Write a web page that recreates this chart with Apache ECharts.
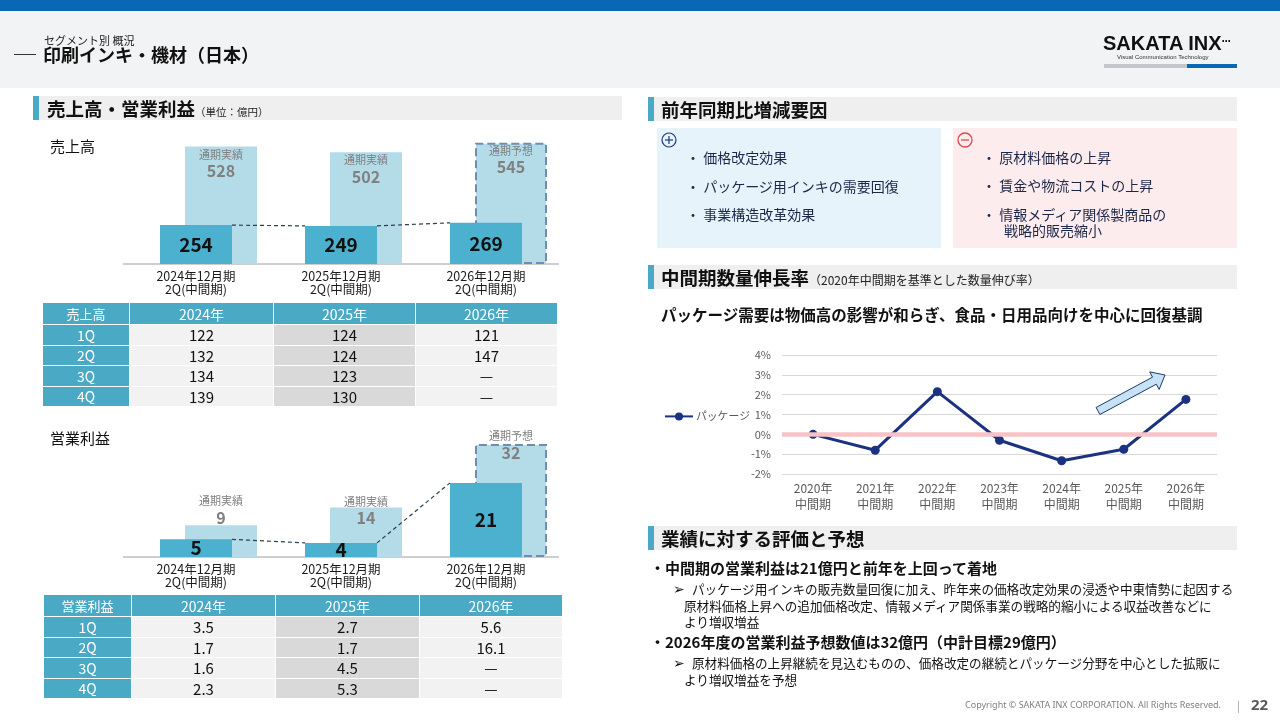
<!DOCTYPE html>
<html>
<head>
<meta charset="utf-8">
<script src="https://cdn.jsdelivr.net/npm/echarts@6/dist/echarts.min.js"></script>
<style>
body{margin:0;width:1280px;height:720px;position:relative;overflow:hidden;background:#fff;
     font-family:"Noto Sans CJK JP","Noto Sans",sans-serif;color:#1a1a1a}
.abs{position:absolute;white-space:nowrap}
.tx{z-index:3}
.hd{font-size:18.5px;line-height:24px;font-weight:bold;color:#111}
.item{font-size:14px;line-height:18px;color:#1c2748}
.tbl{position:absolute;display:grid;gap:1px;background:#fff;z-index:3}
.tbl div{display:flex;align-items:center;justify-content:center;white-space:nowrap}
.th{background:#4aa9c5;color:#fff;font-size:14px}
.c1{background:#f2f2f2;font-size:15px;color:#111}
.c2{background:#d9d9d9;font-size:15px;color:#111}
#chart{position:absolute;left:0;top:0;width:1280px;height:720px;z-index:2}
</style>
</head>
<body>
<!-- page frame -->
<div class="abs" style="left:0;top:0;width:1280px;height:11px;background:#0a67b4"></div>
<div class="abs" style="left:0;top:11px;width:1280px;height:77px;background:#f2f3f4"></div>
<div class="abs" style="left:14px;top:54px;width:22px;height:1px;background:#333"></div>
<div class="abs tx" style="left:44px;top:33px;font-size:11px;line-height:14px;color:#222">セグメント別 概況</div>
<div class="abs tx" style="left:43px;top:42px;font-size:18px;line-height:24px;font-weight:bold;color:#111">印刷インキ・機材（日本）</div>
<div class="abs tx" style="left:1103px;top:29px;font-family:'Liberation Sans',Arial,sans-serif;font-size:20px;line-height:24px;font-weight:bold;color:#111">SAKATA INX<span style="font-size:12px;letter-spacing:-1px;vertical-align:5px">···</span></div>
<div class="abs tx" style="left:1117px;top:53px;font-family:'Liberation Sans',Arial,sans-serif;font-size:6px;line-height:8px;color:#333">Visual Communication Technology</div>
<div class="abs" style="left:1104px;top:64px;width:83px;height:4px;background:#c3c7cb"></div>
<div class="abs" style="left:1187px;top:64px;width:50px;height:4px;background:#0a67b4"></div>

<!-- section headers -->
<div class="abs" style="left:33px;top:96px;width:6px;height:24px;background:#4aa9c5"></div>
<div class="abs" style="left:39px;top:96px;width:583px;height:24px;background:#efefef"></div>
<div class="abs tx hd" style="left:47px;top:96px">売上高・営業利益<span style="font-size:10.5px;font-weight:normal;color:#222">（単位：億円）</span></div>

<div class="abs" style="left:648px;top:97px;width:6px;height:24px;background:#4aa9c5"></div>
<div class="abs" style="left:654px;top:97px;width:583px;height:24px;background:#efefef"></div>
<div class="abs tx hd" style="left:661px;top:97px">前年同期比増減要因</div>

<div class="abs" style="left:648px;top:265px;width:6px;height:24px;background:#4aa9c5"></div>
<div class="abs" style="left:654px;top:265px;width:583px;height:24px;background:#efefef"></div>
<div class="abs tx hd" style="left:661px;top:265px">中間期数量伸長率<span style="font-size:12px;font-weight:normal;color:#222">（2020年中間期を基準とした数量伸び率）</span></div>

<div class="abs" style="left:648px;top:526px;width:6px;height:24px;background:#4aa9c5"></div>
<div class="abs" style="left:654px;top:526px;width:583px;height:24px;background:#efefef"></div>
<div class="abs tx hd" style="left:661px;top:526px">業績に対する評価と予想</div>

<!-- chart captions -->
<div class="abs tx" style="left:50px;top:136px;font-size:15px;line-height:20px;color:#111">売上高</div>
<div class="abs tx" style="left:50px;top:428px;font-size:15px;line-height:20px;color:#111">営業利益</div>

<!-- factor boxes -->
<div class="abs" style="left:657px;top:128px;width:284px;height:120px;background:#e6f3fb"></div>
<div class="abs" style="left:953px;top:128px;width:284px;height:120px;background:#fdeced"></div>
<svg class="abs tx" style="left:661px;top:132px" width="17" height="17">
  <circle cx="8" cy="8" r="7" fill="none" stroke="#1f3a7a" stroke-width="1.2"/>
  <line x1="4" y1="8" x2="12" y2="8" stroke="#1f3a7a" stroke-width="1.2"/>
  <line x1="8" y1="4" x2="8" y2="12" stroke="#1f3a7a" stroke-width="1.2"/>
</svg>
<svg class="abs tx" style="left:957px;top:132px" width="17" height="17">
  <circle cx="8" cy="8" r="7" fill="none" stroke="#e0474c" stroke-width="1.3"/>
  <line x1="4" y1="8" x2="12" y2="8" stroke="#e0474c" stroke-width="1.3"/>
</svg>
<div class="abs tx item" style="left:686px;top:148px">・ 価格改定効果</div>
<div class="abs tx item" style="left:686px;top:177px">・ パッケージ用インキの需要回復</div>
<div class="abs tx item" style="left:686px;top:205px">・ 事業構造改革効果</div>
<div class="abs tx item" style="left:982px;top:148px">・ 原材料価格の上昇</div>
<div class="abs tx item" style="left:982px;top:176px">・ 賃金や物流コストの上昇</div>
<div class="abs tx item" style="left:982px;top:205px">・ 情報メディア関係製商品の</div>
<div class="abs tx item" style="left:1004px;top:221px">戦略的販売縮小</div>

<div class="abs tx" style="left:661px;top:303px;font-size:15.5px;line-height:22px;font-weight:bold;color:#111">パッケージ需要は物価高の影響が和らぎ、食品・日用品向けを中心に回復基調</div>

<!-- evaluation text -->
<div class="abs tx" style="left:650px;top:558px;font-size:15px;line-height:20px;font-weight:bold;color:#111">・中間期の営業利益は21億円と前年を上回って着地</div>
<div class="abs tx" style="left:673px;top:580px;font-size:12.6px;line-height:17px;color:#111"><span style="display:inline-block;width:19px;font-family:'DejaVu Sans';font-size:14px">➢</span>パッケージ用インキの販売数量回復に加え、昨年来の価格改定効果の浸透や中東情勢に起因する</div>
<div class="abs tx" style="left:684px;top:597px;font-size:12.6px;line-height:17px;color:#111">原材料価格上昇への追加価格改定、情報メディア関係事業の戦略的縮小による収益改善などに</div>
<div class="abs tx" style="left:684px;top:613px;font-size:12.6px;line-height:17px;color:#111">より増収増益</div>
<div class="abs tx" style="left:650px;top:632px;font-size:15px;line-height:20px;font-weight:bold;color:#111">・2026年度の営業利益予想数値は32億円（中計目標29億円）</div>
<div class="abs tx" style="left:673px;top:654px;font-size:12.6px;line-height:17px;color:#111"><span style="display:inline-block;width:19px;font-family:'DejaVu Sans';font-size:14px">➢</span>原材料価格の上昇継続を見込むものの、価格改定の継続とパッケージ分野を中心とした拡販に</div>
<div class="abs tx" style="left:684px;top:671px;font-size:12.6px;line-height:17px;color:#111">より増収増益を予想</div>

<!-- footer -->
<div class="abs tx" style="left:965px;top:699px;font-family:'Noto Sans',sans-serif;font-size:9px;line-height:12px;color:#7f7f7f">Copyright © SAKATA INX CORPORATION. All Rights Reserved.</div>
<div class="abs tx" style="left:1237px;top:697px;font-size:11px;line-height:16px;color:#999">|</div>
<div class="abs tx" style="left:1251px;top:694px;font-family:'Noto Sans',sans-serif;font-size:15px;line-height:20px;font-weight:bold;color:#595959">22</div>

<div id="tblSales" class="tbl" style="left:43px;top:303px;grid-template-columns:86px 143px 141px 141px;grid-template-rows:21px repeat(4,19.5px)"></div>
<div id="tblOp" class="tbl" style="left:44px;top:595px;grid-template-columns:87px 143px 143px 142px;grid-template-rows:21px repeat(4,19.5px)"></div>

<div id="chart"></div>

<script type="text/javascript">
// ---- data ----
var barCats = ['2024年12月期\n2Q(中間期)', '2025年12月期\n2Q(中間期)', '2026年12月期\n2Q(中間期)'];
var salesHalf = [254, 249, 269];
var salesFull = [528, 502, 545];
var opHalf = [5, 4, 21];
var opFull = [9, 14, 32];
var fullTags = ['通期実績', '通期実績', '通期予想'];

var tableYears = ['2024年', '2025年', '2026年'];
var quarters = ['1Q', '2Q', '3Q', '4Q'];
var salesQ2024 = [122, 132, 134, 139];
var salesQ2025 = [124, 124, 123, 130];
var salesQ2026 = [121, 147, null, null];
var opQ2024 = [3.5, 1.7, 1.6, 2.3];
var opQ2025 = [2.7, 1.7, 4.5, 5.3];
var opQ2026 = [5.6, 16.1, null, null];

var lineCats = ['2020年\n中間期', '2021年\n中間期', '2022年\n中間期', '2023年\n中間期', '2024年\n中間期', '2025年\n中間期', '2026年\n中間期'];
var pkgGrowth = [0, -0.8, 2.15, -0.3, -1.33, -0.75, 1.76];

// ---- tables ----
function fillTable(id, title, cols, digits) {
    var el = document.getElementById(id);
    var html = '<div class="th" style="font-size:13px">' + title + '</div>';
    tableYears.forEach(function (y) { html += '<div class="th">' + y + '</div>'; });
    quarters.forEach(function (q, r) {
        html += '<div class="th">' + q + '</div>';
        cols.forEach(function (col, c) {
            var v = col[r];
            var txt = v === null ? '—' : v.toFixed(digits);
            html += '<div class="' + (c === 1 ? 'c2' : 'c1') + '">' + txt + '</div>';
        });
    });
    el.innerHTML = html;
}
fillTable('tblSales', '売上高', [salesQ2024, salesQ2025, salesQ2026], 0);
fillTable('tblOp', '営業利益', [opQ2024, opQ2025, opQ2026], 1);

// ---- chart ----
var dom = document.getElementById('chart');
var myChart = echarts.init(dom);

var darkColor = '#4bb1cf';
var lightColor = '#b4dbe8';
var halfW = 36;

function fullItems(values, shifts) {
    return values.map(function (v, i) {
        var item = { value: v };
        if (fullTags[i] === '通期予想') {
            item.itemStyle = { borderColor: '#6e8db0', borderType: 'dashed', borderWidth: 2 };
        }
        if (shifts) item.label = { offset: [0, shifts[i]] };
        return item;
    });
}
function pairs(values) {
    return values.slice(0, -1).map(function (v, i) { return [i, v, values[i + 1]]; });
}
function connector(params, api) {
    var i = api.value(0);
    var a = api.coord([i, api.value(1)]);
    var b = api.coord([i + 1, api.value(2)]);
    return {
        type: 'line',
        shape: { x1: a[0] + halfW, y1: a[1], x2: b[0] - halfW, y2: b[1] },
        style: { stroke: '#2b3f55', lineWidth: 1.2, lineDash: [4, 3] }
    };
}
var fullLabel = {
    show: true, position: 'insideTop', distance: 1,
    formatter: function (p) { return '{t|' + fullTags[p.dataIndex] + '}\n{v|' + p.value + '}'; },
    rich: {
        t: { fontSize: 11, color: '#808080', lineHeight: 14, align: 'center' },
        v: { fontSize: 16, fontWeight: 'bold', color: '#808080', lineHeight: 19, align: 'center' }
    }
};
var halfLabel = { show: true, position: 'inside', fontSize: 19, fontWeight: 'bold', color: '#111' };
var catAxis = {
    type: 'category', data: barCats,
    axisLine: { lineStyle: { color: '#bfbfbf', width: 1.5 } },
    axisTick: { show: false },
    axisLabel: { color: '#1a1a1a', fontSize: 12.5, lineHeight: 13, margin: 6 }
};

// arrow on the growth chart
function arrowPoints(x0, y0, x1, y1, bw, hw, hl) {
    var dx = x1 - x0, dy = y1 - y0, L = Math.sqrt(dx * dx + dy * dy);
    var ux = dx / L, uy = dy / L, nx = -uy, ny = ux, b = L - hl;
    var pts = [[0, bw], [b, bw], [b, hw], [L, 0], [b, -hw], [b, -bw], [0, -bw]];
    return pts.map(function (p) { return [x0 + ux * p[0] + nx * p[1], y0 + uy * p[0] + ny * p[1]]; });
}

var option = {
    animation: false,
    textStyle: { fontFamily: '"Noto Sans CJK JP", sans-serif' },
    grid: [
        { left: 123.5, top: 140, width: 435, height: 124 },
        { left: 148.5, top: 140, width: 435, height: 124 },
        { left: 123.5, top: 437, width: 435, height: 120 },
        { left: 148.5, top: 437, width: 435, height: 120 },
        { left: 782, top: 355, width: 435, height: 119 }
    ],
    xAxis: [
        Object.assign({ gridIndex: 0 }, catAxis),
        { gridIndex: 1, type: 'category', data: barCats, show: false },
        Object.assign({ gridIndex: 2 }, catAxis),
        { gridIndex: 3, type: 'category', data: barCats, show: false },
        {
            gridIndex: 4, type: 'category', data: lineCats,
            axisLine: { show: false }, axisTick: { show: false },
            axisLabel: { color: '#595959', fontSize: 12, lineHeight: 16, margin: 6 }
        }
    ],
    yAxis: [
        { gridIndex: 0, type: 'value', min: 0, max: 810, show: false },
        { gridIndex: 1, type: 'value', min: 0, max: 557, show: false },
        { gridIndex: 2, type: 'value', min: 0, max: 34, show: false },
        { gridIndex: 3, type: 'value', min: 0, max: 34, show: false },
        {
            gridIndex: 4, type: 'value', min: -2, max: 4, interval: 1,
            axisLine: { show: false }, axisTick: { show: false },
            axisLabel: { formatter: '{value}%', color: '#595959', fontSize: 11, margin: 11 },
            splitLine: { lineStyle: { color: '#d9d9d9', width: 1 } }
        }
    ],
    legend: {
        data: ['パッケージ'], left: 659, top: 406, itemWidth: 28, itemHeight: 10, itemGap: 2,
        textStyle: { color: '#595959', fontSize: 10.8, padding: [0, 0, 0, -2] }
    },
    series: [
        { type: 'bar', name: '売上通期', xAxisIndex: 1, yAxisIndex: 1, barWidth: 72, z: 1,
          itemStyle: { color: lightColor }, label: fullLabel, data: fullItems(salesFull) },
        { type: 'bar', name: '売上中間', xAxisIndex: 0, yAxisIndex: 0, barWidth: 72, z: 3,
          itemStyle: { color: darkColor }, label: halfLabel, data: salesHalf },
        { type: 'custom', xAxisIndex: 0, yAxisIndex: 0, z: 4, silent: true,
          renderItem: connector, encode: { x: 0, y: [1, 2] }, data: pairs(salesHalf) },

        { type: 'bar', name: '利益通期', xAxisIndex: 3, yAxisIndex: 3, barWidth: 72, z: 1,
          itemStyle: { color: lightColor }, label: fullLabel, data: fullItems(opFull, [-32, -14, -16]) },
        { type: 'bar', name: '利益中間', xAxisIndex: 2, yAxisIndex: 2, barWidth: 72, z: 3,
          itemStyle: { color: darkColor }, label: halfLabel, data: opHalf },
        { type: 'custom', xAxisIndex: 2, yAxisIndex: 2, z: 4, silent: true,
          renderItem: connector, encode: { x: 0, y: [1, 2] }, data: pairs(opHalf) },

        { type: 'line', name: '基準', xAxisIndex: 4, yAxisIndex: 4, z: 1, silent: true,
          data: pkgGrowth, symbol: 'none', lineStyle: { opacity: 0 },
          markLine: { silent: true, symbol: 'none', label: { show: false },
                      lineStyle: { color: '#f6c3c6', width: 4.5, type: 'solid' }, data: [{ yAxis: 0 }] } },
        { type: 'line', name: 'パッケージ', xAxisIndex: 4, yAxisIndex: 4, z: 3,
          data: pkgGrowth, symbol: 'circle', symbolSize: 9,
          itemStyle: { color: '#1b3281' }, lineStyle: { color: '#1b3281', width: 3 } }
    ],
    graphic: [{
        type: 'polygon', z: 10, silent: true,
        shape: { points: arrowPoints(1098, 411, 1165, 375, 4, 10, 12) },
        style: { fill: '#c6e3f6', stroke: '#1f3864', lineWidth: 1 }
    }]
};
myChart.setOption(option);
</script>
</body>
</html>
